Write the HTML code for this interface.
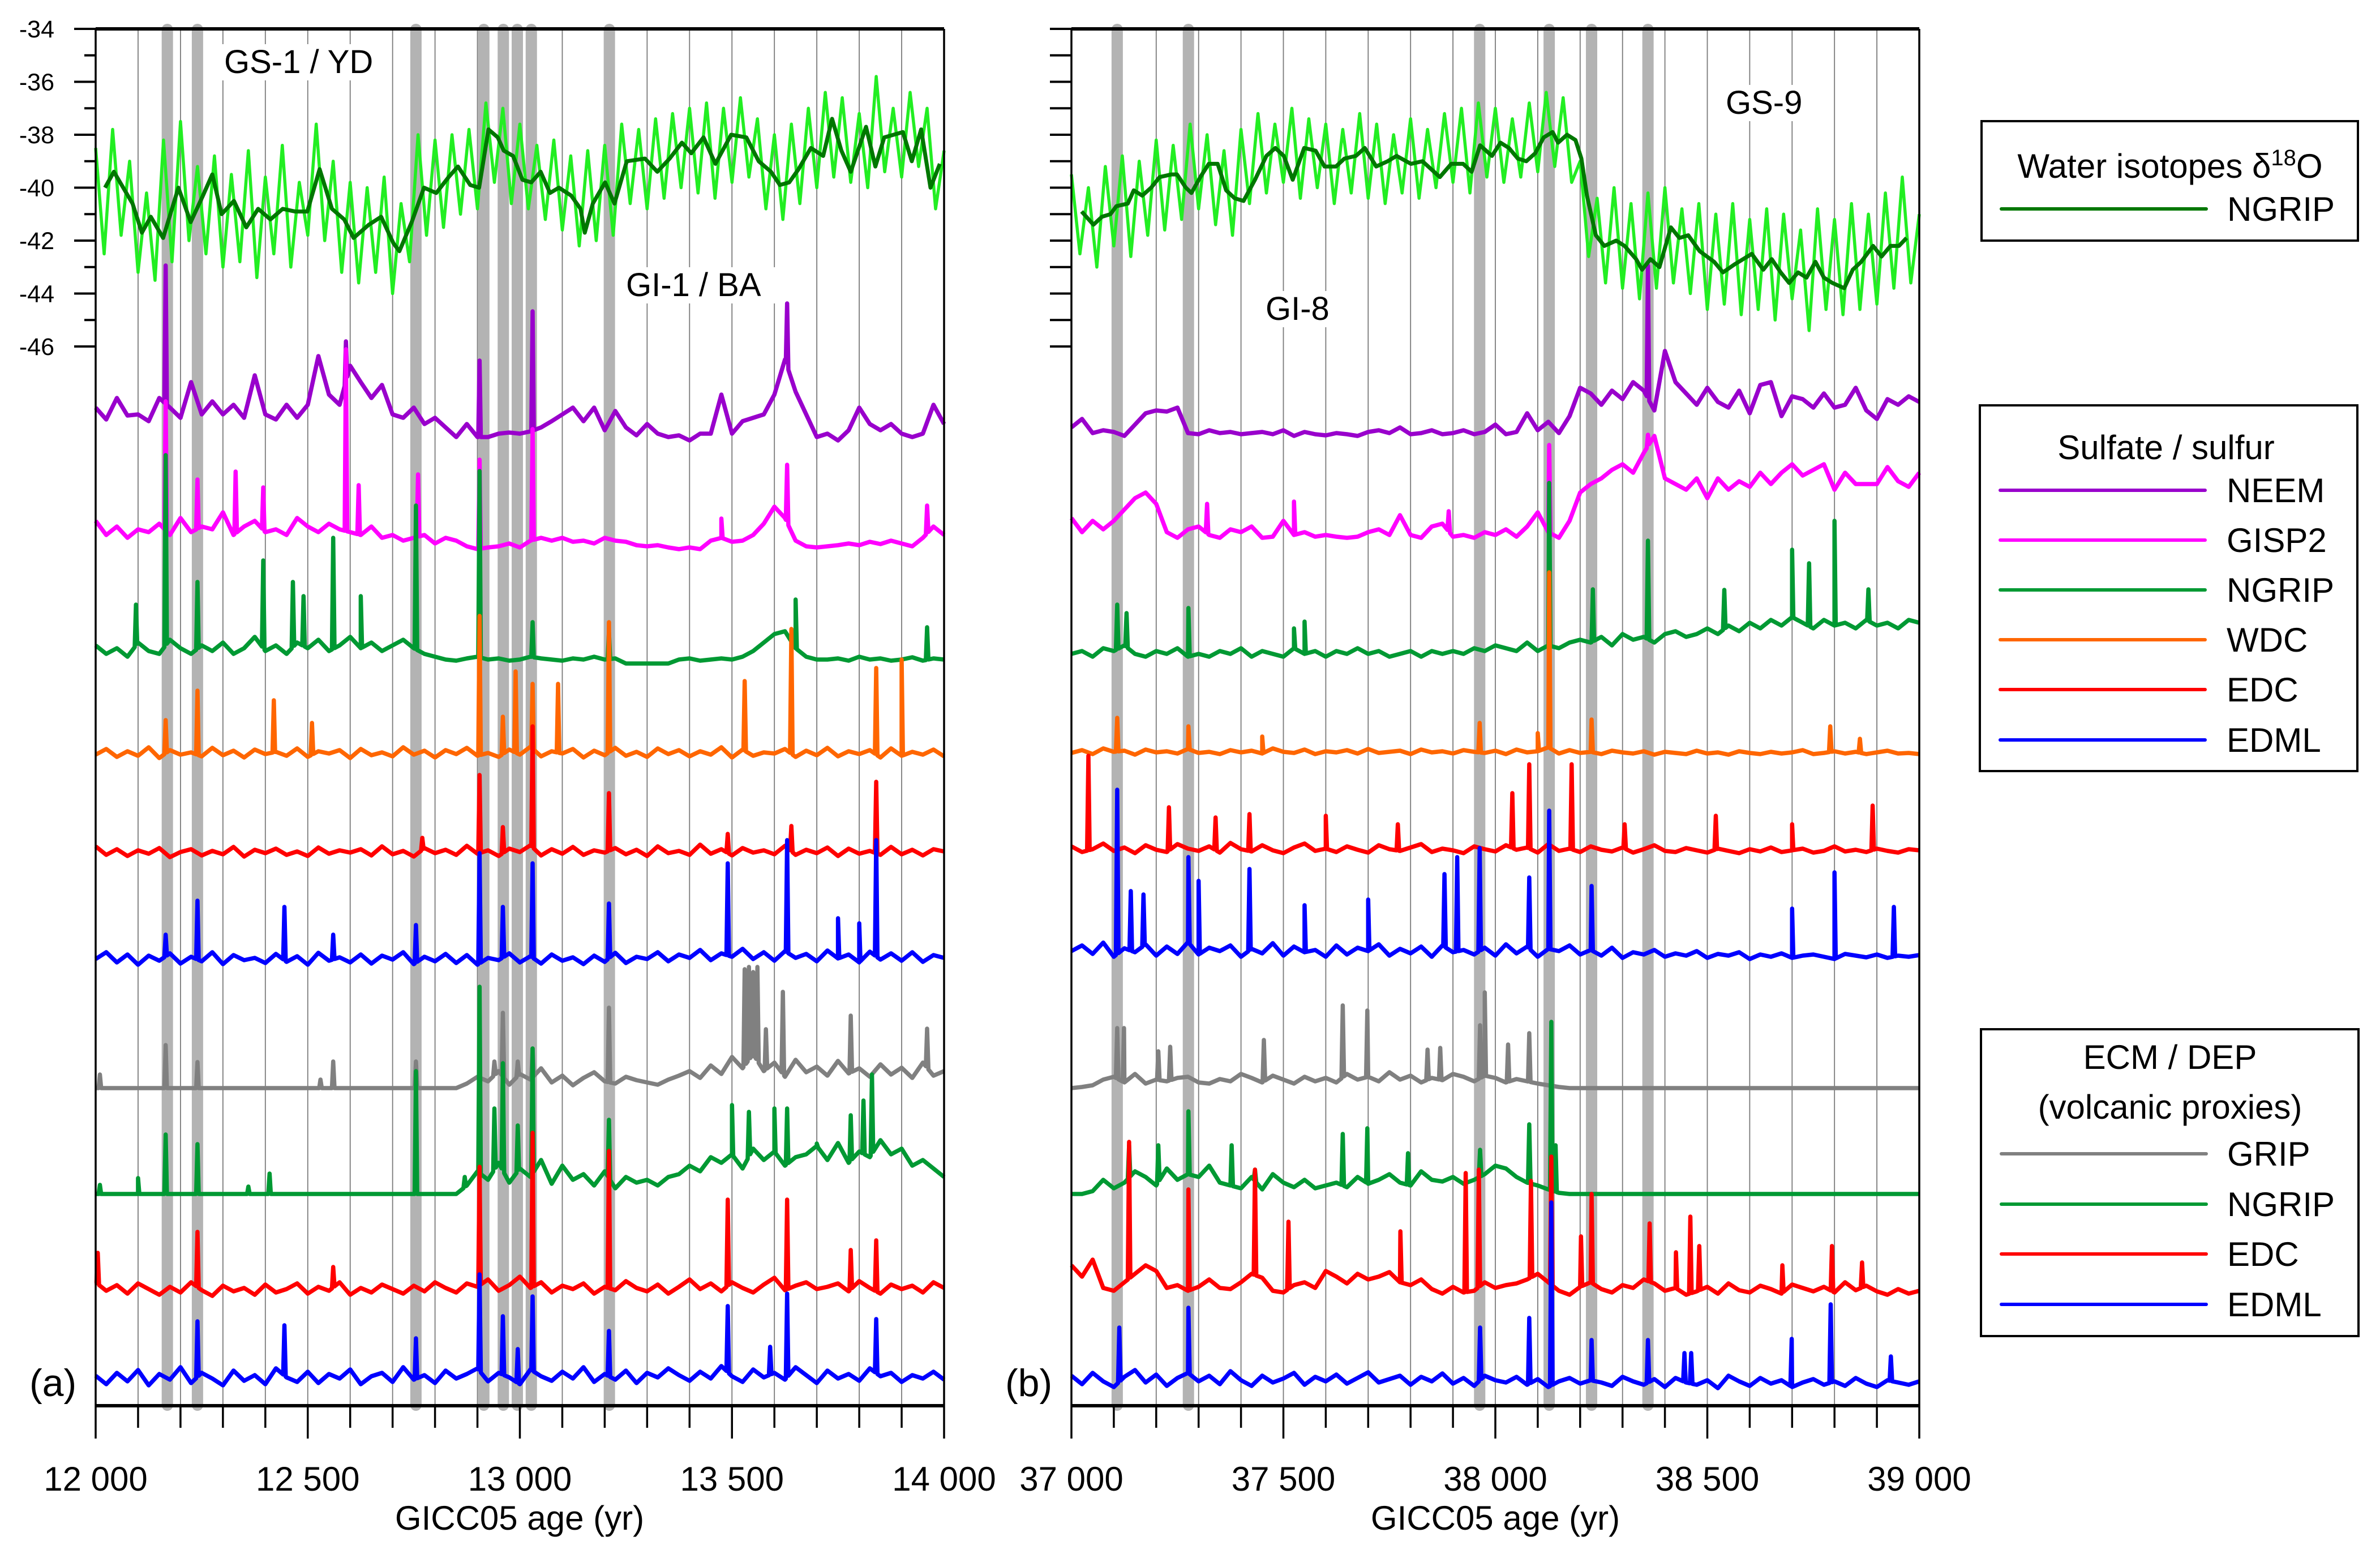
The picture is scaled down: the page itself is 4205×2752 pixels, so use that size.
<!DOCTYPE html>
<html><head><meta charset="utf-8"><title>Volcanic synchronization records</title>
<style>
html,body{margin:0;padding:0;background:#fff;}
svg{display:block;font-family:"Liberation Sans",Arial,sans-serif;}
</style></head>
<body>
<svg id="chart" xmlns="http://www.w3.org/2000/svg" width="4205" height="2752" viewBox="0 0 4205 2752">
<rect x="0" y="0" width="4205" height="2752" fill="#fff"/>
<g id="layer-grid"></g>
<g id="layer-mask">
  <rect x="388" y="78" width="298" height="64" fill="#fff"/>
  <rect x="1098" y="472" width="272" height="64" fill="#fff"/>
  <rect x="3038" y="150" width="162" height="64" fill="#fff"/>
  <rect x="2226" y="514" width="138" height="64" fill="#fff"/>
</g>
<g id="layer-bands"></g>
<g id="layer-data"></g>
<g id="layer-axes"></g>
<g id="layer-text">
  <text x="396" y="129" font-size="58">GS-1 / YD</text>
  <text x="1106" y="523" font-size="58">GI-1 / BA</text>
  <text x="3049" y="201" font-size="58">GS-9</text>
  <text x="2236" y="565" font-size="58">GI-8</text>
  <text x="52" y="2466" font-size="68">(a)</text>
  <text x="1776" y="2466" font-size="68">(b)</text>
  <text x="918" y="2702" font-size="60" text-anchor="middle">GICC05 age (yr)</text>
  <text x="2642" y="2702" font-size="60" text-anchor="middle">GICC05 age (yr)</text>
</g>
<g id="legend">
  <rect x="3501" y="214" width="665" height="211" fill="none" stroke="#000" stroke-width="4"/>
  <text x="3834" y="314" font-size="60" text-anchor="middle">Water isotopes δ<tspan font-size="40" dy="-22">18</tspan><tspan dy="22">O</tspan></text>
  <line x1="3536" y1="369" x2="3898" y2="369" stroke="#007700" stroke-width="6" stroke-linecap="round"/>
  <text x="3935" y="390" font-size="60">NGRIP</text>

  <rect x="3498" y="716" width="667" height="646" fill="none" stroke="#000" stroke-width="4"/>
  <text x="3827" y="811" font-size="60" text-anchor="middle">Sulfate / sulfur</text>
  <line x1="3534" y1="866" x2="3896" y2="866" stroke="#9900cc" stroke-width="6" stroke-linecap="round"/>
  <text x="3934" y="887" font-size="60">NEEM</text>
  <line x1="3534" y1="954" x2="3896" y2="954" stroke="#ff00ff" stroke-width="6" stroke-linecap="round"/>
  <text x="3934" y="975" font-size="60">GISP2</text>
  <line x1="3534" y1="1042" x2="3896" y2="1042" stroke="#009933" stroke-width="6" stroke-linecap="round"/>
  <text x="3934" y="1063" font-size="60">NGRIP</text>
  <line x1="3534" y1="1130" x2="3896" y2="1130" stroke="#ff6600" stroke-width="6" stroke-linecap="round"/>
  <text x="3934" y="1151" font-size="60">WDC</text>
  <line x1="3534" y1="1218" x2="3896" y2="1218" stroke="#ff0000" stroke-width="6" stroke-linecap="round"/>
  <text x="3934" y="1239" font-size="60">EDC</text>
  <line x1="3534" y1="1307" x2="3896" y2="1307" stroke="#0000ff" stroke-width="6" stroke-linecap="round"/>
  <text x="3934" y="1328" font-size="60">EDML</text>

  <rect x="3500" y="1818" width="667" height="542" fill="none" stroke="#000" stroke-width="4"/>
  <text x="3834" y="1888" font-size="60" text-anchor="middle">ECM / DEP</text>
  <text x="3834" y="1976" font-size="60" text-anchor="middle">(volcanic proxies)</text>
  <line x1="3536" y1="2038" x2="3898" y2="2038" stroke="#808080" stroke-width="6" stroke-linecap="round"/>
  <text x="3935" y="2059" font-size="60">GRIP</text>
  <line x1="3536" y1="2127" x2="3898" y2="2127" stroke="#009933" stroke-width="6" stroke-linecap="round"/>
  <text x="3935" y="2148" font-size="60">NGRIP</text>
  <line x1="3536" y1="2215" x2="3898" y2="2215" stroke="#ff0000" stroke-width="6" stroke-linecap="round"/>
  <text x="3935" y="2236" font-size="60">EDC</text>
  <line x1="3536" y1="2304" x2="3898" y2="2304" stroke="#0000ff" stroke-width="6" stroke-linecap="round"/>
  <text x="3935" y="2325" font-size="60">EDML</text>
</g>
</svg>
<script>
// ===== Data: panel (a) 12000-14000 yr =====
var aBandYr = [12169,12240,12755,12915,12961,12994,13027,13211];
var aXTicks = [12000,12500,13000,13500,14000];
var aXTickLabels = ["12 000","12 500","13 000","13 500","14 000"];
var yTickVals = [-34,-35,-36,-37,-38,-39,-40,-41,-42,-43,-44,-45,-46];
var yTickLabels = ["-34","","-36","","-38","","-40","","-42","","-44","","-46"];

var aIsoSmYr = [12022,12043,12065,12087,12109,12130,12159,12195,12224,12253,12275,12297,12326,12355,12383,12412,12441,12470,12499,12528,12557,12586,12608,12644,12673,12702,12716,12745,12774,12803,12832,12854,12883,12904,12926,12948,12962,12984,13006,13027,13049,13071,13092,13121,13143,13153,13172,13201,13223,13252,13295,13324,13353,13382,13404,13433,13461,13498,13534,13563,13592,13613,13635,13657,13686,13715,13736,13758,13780,13816,13838,13859,13903,13924,13946,13968,13990];
var aIsoSmVal = [-40.0,-39.4,-40.0,-40.6,-41.7,-41.1,-41.9,-40.0,-41.3,-40.3,-39.5,-41.0,-40.5,-41.5,-40.8,-41.2,-40.8,-40.9,-40.9,-39.3,-40.8,-41.2,-41.9,-41.4,-41.1,-42.1,-42.4,-41.3,-40.0,-40.2,-39.6,-39.2,-39.9,-40.0,-37.8,-38.1,-38.6,-38.8,-39.7,-39.8,-39.4,-40.2,-40.0,-40.3,-40.8,-41.7,-40.6,-39.8,-40.6,-39.0,-38.9,-39.4,-38.9,-38.3,-38.7,-38.1,-39.1,-38.0,-38.1,-39.0,-39.4,-39.9,-39.8,-39.3,-38.5,-38.8,-37.4,-38.6,-39.4,-37.7,-39.2,-38.1,-37.9,-39.0,-37.8,-40.0,-39.1];
var aIsoRaw = [-38.5,-42.5,-37.8,-41.8,-39.0,-43.2,-40.2,-43.5,-38.2,-42.8,-37.5,-42.0,-39.2,-42.5,-38.8,-43.0,-39.5,-42.8,-38.6,-43.4,-39.6,-42.5,-38.4,-43.0,-39.8,-41.8,-37.6,-42.0,-39.0,-43.2,-39.8,-43.6,-40.0,-43.2,-39.6,-44.0,-40.6,-42.8,-38.0,-41.8,-38.2,-41.5,-38.0,-41.0,-37.8,-40.8,-36.8,-39.8,-37.0,-40.6,-37.6,-40.8,-38.4,-41.2,-38.2,-41.6,-38.8,-42.2,-38.6,-42.0,-38.4,-41.8,-37.6,-40.6,-37.8,-40.8,-37.4,-40.4,-37.2,-40.0,-37.0,-40.2,-36.8,-40.4,-37.0,-39.8,-36.6,-39.6,-37.4,-40.8,-38.0,-41.2,-37.6,-40.6,-37.0,-40.0,-36.4,-39.6,-36.6,-39.8,-37.2,-40.0,-35.8,-39.4,-37.0,-39.6,-36.4,-39.2,-37.0,-40.8,-38.6];

var aNeemBg = [52,31,69,38,40,28,69,52,34,97,40,63,40,57,34,109,40,31,57,34,57,143,75,57,126,97,69,92,40,34,52,23,34,17,0,23,0,0,6,8,6,10,17,28,40,52,28,52,12,46,17,3,23,6,0,3,-6,6,6,75,6,28,34,40,75,137,80,40,0,6,-6,12,52,23,12,23,6,0,6,57,23];
var aNeemSpkYr = [12165,12590,12905,13030,13630];
var aNeemSpkVal = [303,169,135,222,236];

var aGispBg = [55,30,45,25,40,35,50,30,60,35,45,40,70,30,45,55,35,40,30,60,45,35,50,40,35,30,45,25,30,20,25,30,15,25,20,10,5,8,10,15,8,20,25,20,25,18,20,15,25,20,18,12,10,12,8,5,8,5,20,25,18,20,30,50,80,60,20,10,8,10,12,15,12,18,14,20,15,10,25,45,30];
var aGispSpkYr = [12165,12240,12330,12395,12590,12620,12760,12905,13030,13475,13630,13960];
var aGispSpkVal = [266,128,142,114,358,118,137,163,217,59,154,82];

var aNgripBg = [35,20,30,15,40,25,20,45,30,20,35,25,40,20,30,50,25,35,20,40,30,45,25,35,50,30,40,25,35,45,30,20,15,10,8,12,15,10,12,8,10,15,12,10,8,12,10,15,10,12,3,3,3,3,3,10,12,8,10,12,10,15,25,40,55,60,30,15,10,10,12,8,15,10,12,8,10,14,8,12,10];
var aNgripSpkYr = [12095,12165,12240,12395,12465,12490,12560,12625,12755,12905,13030,13210,13650,13960];
var aNgripSpkVal = [107,371,147,185,147,122,225,122,282,343,76,58,116,67];

var aWdcBg = [12,22,8,18,10,25,6,20,12,16,9,24,11,19,7,21,13,17,10,23,8,18,14,20,6,22,11,16,9,25,12,19,7,20,13,24,10,15,8,21,12,26,9,18,14,22,7,19,11,24,10,17,8,23,13,20,9,18,12,25,7,21,10,16,14,22,8,19,11,24,9,18,13,20,7,23,10,17,12,21,9];
var aWdcSpkYr = [12165,12240,12420,12510,12905,12960,12990,13030,13090,13210,13530,13640,13840,13900];
var aWdcSpkVal = [73,125,108,68,257,79,159,137,137,246,142,234,165,180];

var aEdcBg = [25,10,20,8,18,12,22,6,15,20,9,17,11,24,7,19,13,21,10,16,8,23,12,18,14,20,9,25,11,17,7,22,13,19,10,26,12,18,8,21,15,27,9,20,12,24,10,18,14,22,11,19,8,25,13,17,10,28,12,20,9,22,14,18,11,26,10,19,13,23,8,21,12,17,10,24,11,19,9,20,16];
var aEdcSpkYr = [12770,12905,12960,13030,13210,13490,13640,13840];
var aEdcSpkVal = [40,151,59,237,119,47,61,139];

var aEdmlBg = [18,30,12,26,8,24,15,28,10,22,14,30,9,25,16,20,11,27,13,23,8,29,15,21,12,26,10,24,17,30,9,22,14,27,11,25,8,20,16,28,12,23,10,26,15,21,9,24,13,29,11,22,18,30,14,26,20,34,16,28,22,36,18,30,15,32,20,27,14,33,19,26,12,31,17,28,15,30,13,25,20];
var aEdmlSpkYr = [12165,12240,12445,12560,12755,12905,12960,13030,13210,13490,13630,13750,13800,13840];
var aEdmlSpkVal = [61,121,110,61,78,205,110,187,116,187,228,90,81,228];

var aGripBg = [0,0,0,0,0,0,0,0,0,0,0,0,0,0,0,0,0,0,0,0,0,0,0,0,0,0,0,0,0,0,0,0,0,0,0,8,20,12,30,6,25,15,35,10,22,5,18,28,12,8,20,14,10,6,15,22,30,18,40,25,55,35,60,30,45,20,50,28,38,22,48,26,35,20,42,24,36,18,45,22,30];
var aGripSpkYr = [12010,12165,12240,12530,12560,12755,12940,12960,12995,13030,13210,13530,13540,13550,13560,13580,13620,13780,13960];
var aGripSpkVal = [24,76,46,15,47,47,47,133,47,70,142,210,214,205,214,104,170,128,105];

var aNdepBg = [0,0,0,0,0,0,0,0,0,0,0,0,0,0,0,0,0,0,0,0,0,0,0,0,0,0,0,0,0,0,0,0,0,0,0,15,40,25,55,20,45,30,60,18,50,25,35,15,40,10,30,20,25,15,30,35,50,40,65,55,70,45,80,60,75,50,65,70,85,60,90,55,75,65,95,70,80,50,60,45,30];
var aNdepSpkYr = [12010,12100,12165,12240,12360,12410,12755,12870,12905,12940,12960,12995,13030,13210,13500,13540,13600,13630,13700,13780,13810,13830];
var aNdepSpkVal = [16,28,105,88,13,36,217,30,366,151,231,121,257,131,157,145,151,151,89,139,165,211];

var aEdepBg = [30,15,25,10,28,18,8,22,12,30,16,6,24,14,20,8,26,12,18,28,10,22,15,30,8,20,12,26,18,10,24,14,30,20,12,28,22,35,15,25,40,20,30,12,24,18,28,10,22,16,32,20,14,26,10,22,35,18,28,14,30,20,12,26,38,16,24,30,18,22,28,14,32,20,10,26,18,24,12,30,20];
var aEdepSpkYr = [12005,12240,12560,12905,13030,13210,13490,13630,13780,13840];
var aEdepSpkVal = [82,119,57,234,294,262,176,176,87,104];

var aMdepBg = [25,10,30,15,35,8,28,18,40,12,30,20,8,34,16,26,10,38,22,14,32,12,28,20,36,10,24,30,14,40,18,26,12,34,20,28,38,15,30,22,10,36,24,16,32,20,40,14,28,18,34,12,30,22,38,26,16,32,20,42,24,14,36,22,30,18,40,26,12,34,20,28,16,38,24,30,14,26,20,32,18];
var aMdepSpkYr = [12240,12445,12755,12905,12960,12995,13030,13210,13490,13590,13630,13840];
var aMdepSpkVal = [121,114,91,204,130,72,165,104,148,76,170,125];

// ===== Data: panel (b) 37000-39000 yr =====
var bBandYr = [37108,37276,37963,38127,38227,38360];
var bXTicks = [37000,37500,38000,38500,39000];
var bXTickLabels = ["37 000","37 500","38 000","38 500","39 000"];

var bIsoSmYr = [37024,37052,37072,37092,37106,37133,37147,37167,37188,37208,37236,37249,37270,37283,37304,37324,37345,37365,37385,37406,37433,37460,37481,37501,37522,37549,37576,37597,37624,37644,37671,37692,37719,37746,37767,37801,37828,37869,37896,37924,37944,37964,37992,38012,38032,38053,38073,38094,38114,38135,38148,38169,38189,38203,38216,38237,38257,38285,38305,38332,38346,38366,38387,38414,38434,38455,38482,38516,38537,38564,38605,38632,38652,38673,38693,38714,38734,38755,38775,38795,38823,38843,38863,38891,38911,38932,38952,38970];
var bIsoSmVal = [-40.9,-41.4,-41.1,-41.0,-40.7,-40.6,-40.1,-40.3,-40.0,-39.6,-39.5,-39.5,-40.0,-40.2,-39.6,-39.1,-39.1,-40.1,-40.4,-40.5,-39.7,-38.8,-38.5,-38.8,-39.7,-38.5,-38.6,-39.2,-39.2,-38.9,-38.8,-38.5,-39.2,-39.0,-38.8,-39.1,-39.0,-39.6,-39.1,-39.1,-39.4,-38.4,-38.8,-38.3,-38.5,-38.9,-39.0,-38.7,-38.1,-37.9,-38.3,-38.0,-38.2,-38.9,-40.3,-41.8,-42.2,-42.0,-42.2,-42.7,-43.1,-42.7,-43.0,-41.5,-41.9,-41.8,-42.4,-42.8,-43.2,-42.9,-42.5,-43.1,-42.7,-43.2,-43.6,-43.2,-43.4,-42.8,-43.4,-43.6,-43.8,-43.1,-42.8,-42.2,-42.6,-42.2,-42.2,-41.9];
var bIsoRaw = [-39.5,-42.5,-40.0,-43.0,-39.2,-42.2,-38.8,-42.6,-39.0,-41.8,-38.2,-41.6,-38.4,-41.2,-37.6,-40.8,-38.0,-41.4,-38.6,-41.8,-37.8,-40.6,-37.2,-40.2,-37.6,-39.8,-37.0,-40.4,-37.4,-40.0,-37.6,-40.6,-37.8,-40.2,-37.2,-40.4,-37.6,-40.6,-38.0,-40.2,-37.4,-40.4,-37.8,-40.0,-37.2,-39.8,-37.0,-40.2,-36.8,-39.6,-37.0,-39.8,-37.4,-39.6,-36.8,-39.4,-36.4,-39.2,-36.6,-39.8,-39.0,-42.6,-40.4,-43.6,-40.0,-43.8,-40.6,-44.2,-40.2,-43.8,-40.0,-43.6,-40.8,-44.0,-40.6,-44.6,-41.0,-44.4,-40.6,-44.8,-41.2,-44.6,-40.8,-45.0,-41.0,-44.2,-41.6,-45.4,-40.8,-44.6,-41.2,-44.8,-40.6,-44.6,-41.0,-44.4,-40.2,-43.8,-39.6,-43.6,-41.0];

var bNeemBg = [20,35,10,15,12,5,25,45,50,48,55,10,8,15,10,12,8,10,12,8,15,5,12,8,6,10,8,5,12,15,10,20,8,10,15,8,10,15,8,12,25,8,12,45,15,30,10,40,90,80,60,85,70,100,85,50,155,100,80,60,90,65,55,85,45,95,100,40,75,70,55,80,55,60,90,50,35,70,60,75,65];
var bNeemSpkYr = [38360];
var bNeemSpkVal = [306];

var bGispBg = [45,20,40,25,40,60,80,90,70,20,10,25,30,15,10,25,20,30,10,12,40,15,20,12,15,12,10,12,20,25,15,50,15,10,30,35,12,15,10,20,15,25,12,30,55,20,10,40,90,105,115,130,140,125,160,190,115,105,95,115,80,115,95,110,100,125,105,125,140,120,130,140,95,125,105,105,105,135,110,100,125];
var bGispSpkYr = [37320,37525,37890,38127,38360];
var bGispSpkVal = [70,74,57,174,192];

var bNgripBg = [25,30,20,35,30,40,25,20,30,25,35,20,25,20,30,25,35,20,30,25,20,35,25,30,20,30,25,35,25,30,20,25,30,20,30,25,30,25,35,30,40,35,30,45,30,40,35,45,50,45,55,40,60,50,55,45,60,65,55,60,70,60,75,65,80,70,85,75,90,80,70,85,75,80,70,85,75,80,70,85,80];
var bNgripSpkYr = [37108,37130,37276,37525,37550,38127,38230,38360,38540,38700,38740,38800,38880];
var bNgripSpkVal = [112,97,106,70,82,327,139,225,138,209,185,260,139];

var bWdcBg = [10,15,8,18,12,14,7,16,11,13,9,17,10,12,8,15,11,14,9,18,12,10,16,8,13,11,15,9,17,10,12,14,8,16,11,13,9,15,12,10,14,8,16,11,13,20,9,15,10,12,8,14,11,9,13,7,12,10,8,14,9,11,7,13,10,8,12,9,11,15,8,10,13,9,12,8,11,14,9,10,8];
var bWdcSpkYr = [37108,37276,37450,37963,38100,38127,38227,38790,38860];
var bWdcSpkVal = [72,57,39,63,45,329,69,57,35];

var bEdcBg = [20,10,15,25,12,18,8,22,14,10,24,16,12,20,9,26,15,11,22,13,8,18,25,12,16,10,20,14,9,22,15,12,18,24,10,16,13,8,20,15,11,22,14,18,9,24,12,16,10,20,14,11,18,9,15,22,12,10,17,13,9,16,12,8,15,11,18,10,13,16,9,12,20,11,14,10,16,12,9,15,13];
var bEdcSpkYr = [37040,37230,37340,37420,37600,37770,38040,38080,38180,38305,38520,38700,38890];
var bEdcSpkVal = [180,89,71,77,74,59,114,165,165,59,74,59,92];

var bEdmlBg = [20,30,15,35,10,25,18,32,12,28,15,36,14,26,20,30,10,24,16,34,12,28,18,22,10,30,14,26,20,32,12,24,16,28,10,30,18,22,14,26,12,32,16,28,10,24,20,30,14,22,12,26,8,18,14,22,10,16,12,20,8,15,12,18,6,14,10,16,8,12,14,10,6,15,12,9,14,8,12,10,13];
var bEdmlSpkYr = [37108,37140,37170,37276,37300,37420,37550,37700,37880,37910,37963,38080,38127,38227,38700,38800,38940];
var bEdmlSpkVal = [305,126,120,186,144,165,101,111,156,186,202,150,268,135,95,159,98];

var bGripBg = [0,2,5,15,20,10,25,8,15,12,18,20,10,8,16,12,25,18,10,22,15,8,20,12,18,10,25,15,20,12,28,15,22,10,18,14,25,20,12,22,18,10,16,12,8,5,2,0,0,0,0,0,0,0,0,0,0,0,0,0,0,0,0,0,0,0,0,0,0,0,0,0,0,0,0,0,0,0,0,0,0];
var bGripSpkYr = [37108,37124,37205,37233,37454,37640,37698,37840,37870,37964,37975,38030,38080];
var bGripSpkVal = [106,106,65,73,85,146,137,68,71,111,169,77,97];

var bNdepBg = [0,0,5,25,10,20,40,30,15,45,25,35,30,50,20,15,10,30,8,35,20,12,25,10,15,20,12,30,18,25,35,20,15,40,25,22,30,18,25,35,50,45,30,20,15,8,2,0,0,0,0,0,0,0,0,0,0,0,0,0,0,0,0,0,0,0,0,0,0,0,0,0,0,0,0,0,0,0,0,0,0];
var bNdepSpkYr = [37136,37205,37276,37378,37433,37640,37698,37794,37964,38080,38132,38142];
var bNdepSpkVal = [86,86,146,86,43,106,116,72,78,123,304,86];

var bEdepBg = [60,40,70,20,15,30,45,60,50,20,25,15,22,35,20,18,30,45,38,15,12,25,30,20,50,40,28,45,35,40,48,30,25,35,18,10,22,12,15,30,20,25,28,35,45,30,15,8,22,30,18,12,25,20,35,28,15,20,8,14,22,10,28,16,12,24,18,10,26,20,14,22,12,30,16,24,14,8,18,10,15];
var bEdepSpkYr = [37136,37276,37433,37512,37776,37930,37961,38084,38132,38202,38227,38364,38426,38460,38481,38677,38794,38865];
var bEdepSpkVal = [278,194,229,137,120,223,229,209,252,111,186,134,83,146,94,60,94,65];

var bMdepBg = [30,15,35,20,10,28,40,18,32,12,26,35,20,30,15,38,22,12,30,18,25,35,14,28,20,32,16,26,36,18,24,30,14,28,20,34,16,26,12,30,22,18,28,14,24,10,20,26,16,22,18,12,28,20,14,24,10,26,18,14,22,8,30,20,12,26,16,22,10,18,24,14,20,12,26,16,10,22,18,14,20];
var bMdepSpkYr = [37113,37276,37964,38080,38132,38227,38360,38446,38462,38699,38791,38933];
var bMdepSpkVal = [115,150,115,132,336,93,93,70,70,95,156,64];

// ===== Rendering =====
var NS = 'http://www.w3.org/2000/svg';
var Y_TOP = 51, Y_BOT = 2483;
function mk(tag, attrs, parent) {
  var e = document.createElementNS(NS, tag);
  for (var k in attrs) e.setAttribute(k, attrs[k]);
  parent.appendChild(e);
  return e;
}
var gGrid = document.getElementById('layer-grid');
var gBands = document.getElementById('layer-bands');
var gData = document.getElementById('layer-data');
var gAxes = document.getElementById('layer-axes');

var panels = [
  {id:'a', x0:169, x1:1668, yr0:12000, yr1:14000, bands:aBandYr, ticks:aXTicks, tickLabels:aXTickLabels, yLabels:true,
   isoSmYr:aIsoSmYr, isoSmVal:aIsoSmVal, isoRaw:aIsoRaw,
   series:[
    {n:'neem-sulfate', bg:aNeemBg, sy:aNeemSpkYr, sv:aNeemSpkVal, base:772, c:'#9900cc'},
    {n:'gisp2-sulfate', bg:aGispBg, sy:aGispSpkYr, sv:aGispSpkVal, base:975, c:'#ff00ff'},
    {n:'ngrip-sulfate', bg:aNgripBg, sy:aNgripSpkYr, sv:aNgripSpkVal, base:1175, c:'#009933'},
    {n:'wdc-sulfur', bg:aWdcBg, sy:aWdcSpkYr, sv:aWdcSpkVal, base:1345, c:'#ff6600'},
    {n:'edc-sulfate', bg:aEdcBg, sy:aEdcSpkYr, sv:aEdcSpkVal, base:1520, c:'#ff0000'},
    {n:'edml-sulfate', bg:aEdmlBg, sy:aEdmlSpkYr, sv:aEdmlSpkVal, base:1712, c:'#0000ff'},
    {n:'grip-ecm', bg:aGripBg, sy:aGripSpkYr, sv:aGripSpkVal, base:1922, c:'#808080'},
    {n:'ngrip-dep', bg:aNdepBg, sy:aNdepSpkYr, sv:aNdepSpkVal, base:2109, c:'#009933'},
    {n:'edc-dep', bg:aEdepBg, sy:aEdepSpkYr, sv:aEdepSpkVal, base:2295, c:'#ff0000'},
    {n:'edml-dep', bg:aMdepBg, sy:aMdepSpkYr, sv:aMdepSpkVal, base:2455, c:'#0000ff'}
   ]},
  {id:'b', x0:1893, x1:3391, yr0:37000, yr1:39000, bands:bBandYr, ticks:bXTicks, tickLabels:bXTickLabels, yLabels:false,
   isoSmYr:bIsoSmYr, isoSmVal:bIsoSmVal, isoRaw:bIsoRaw,
   series:[
    {n:'neem-sulfate', bg:bNeemBg, sy:bNeemSpkYr, sv:bNeemSpkVal, base:775, c:'#9900cc'},
    {n:'gisp2-sulfate', bg:bGispBg, sy:bGispSpkYr, sv:bGispSpkVal, base:960, c:'#ff00ff'},
    {n:'ngrip-sulfate', bg:bNgripBg, sy:bNgripSpkYr, sv:bNgripSpkVal, base:1180, c:'#009933'},
    {n:'wdc-sulfur', bg:bWdcBg, sy:bWdcSpkYr, sv:bWdcSpkVal, base:1340, c:'#ff6600'},
    {n:'edc-sulfate', bg:bEdcBg, sy:bEdcSpkYr, sv:bEdcSpkVal, base:1515, c:'#ff0000'},
    {n:'edml-sulfate', bg:bEdmlBg, sy:bEdmlSpkYr, sv:bEdmlSpkVal, base:1700, c:'#0000ff'},
    {n:'grip-ecm', bg:bGripBg, sy:bGripSpkYr, sv:bGripSpkVal, base:1922, c:'#808080'},
    {n:'ngrip-dep', bg:bNdepBg, sy:bNdepSpkYr, sv:bNdepSpkVal, base:2109, c:'#009933'},
    {n:'edc-dep', bg:bEdepBg, sy:bEdepSpkYr, sv:bEdepSpkVal, base:2295, c:'#ff0000'},
    {n:'edml-dep', bg:bMdepBg, sy:bMdepSpkYr, sv:bMdepSpkVal, base:2460, c:'#0000ff'}
   ]}
];

function xScale(p, yr) { return p.x0 + (yr - p.yr0) / (p.yr1 - p.yr0) * (p.x1 - p.x0); }
function isoScale(v) { return Y_TOP + (-34 - v) * 46.75; }

panels.forEach(function (p) {
  for (var yr = p.yr0 + 100; yr < p.yr1; yr += 100) {
    var gx = xScale(p, yr);
    var gl = mk('line', {x1:gx, y1:Y_TOP, x2:gx, y2:Y_BOT, stroke:'#7a7a7a', 'stroke-width':1.8}, gGrid);
    
    
  }
  p.bands.forEach(function (yr) {
    var bx = xScale(p, yr);
    var b = mk('line', {x1:bx, y1:52, x2:bx, y2:2482, stroke:'#b3b3b3', 'stroke-width':20, 'stroke-linecap':'round'}, gBands);
    
    
  });
  var step = (p.yr1 - p.yr0) / (p.isoRaw.length - 1);
  var pts = p.isoRaw.map(function (v, i) { return xScale(p, p.yr0 + i * step).toFixed(1) + ',' + isoScale(v).toFixed(1); }).join(' ');
  var raw = mk('polyline', {points:pts, fill:'none', stroke:'#22ee22', 'stroke-width':5.5, 'stroke-linejoin':'round'}, gData);
  
  
  p.series.forEach(function (s) {
    var n = s.bg.length, st = (p.yr1 - p.yr0) / (n - 1);
    var list = [];
    for (var i = 0; i < n; i++) list.push([p.yr0 + i * st, s.bg[i]]);
    function bgAt(yr) {
      var f = (yr - p.yr0) / st, i0 = Math.max(0, Math.min(n - 2, Math.floor(f))), t = f - i0;
      return s.bg[i0] * (1 - t) + s.bg[i0 + 1] * t;
    }
    for (var k = 0; k < s.sy.length; k++) {
      var y = s.sy[k];
      list.push([y - 3, bgAt(y - 3)]);
      list.push([y, s.sv[k]]);
      list.push([y + 3, bgAt(y + 3)]);
    }
    list.sort(function (a, b) { return a[0] - b[0]; });
    var pp = list.filter(function (q) { return q[0] >= p.yr0 && q[0] <= p.yr1; })
      .map(function (q) { return xScale(p, q[0]).toFixed(1) + ',' + (s.base - q[1]).toFixed(1); }).join(' ');
    var pl = mk('polyline', {points:pp, fill:'none', stroke:s.c, 'stroke-width':7.5, 'stroke-linejoin':'round'}, gData);
    
    
  });
  var sp = p.isoSmYr.map(function (yr, i) { return xScale(p, yr).toFixed(1) + ',' + isoScale(p.isoSmVal[i]).toFixed(1); }).join(' ');
  var sm = mk('polyline', {points:sp, fill:'none', stroke:'#007700', 'stroke-width':7, 'stroke-linejoin':'round'}, gData);
  
  

  var frame = [[p.x0, Y_TOP, p.x1, Y_TOP, 6], [p.x0, Y_BOT, p.x1, Y_BOT, 6], [p.x0, Y_TOP, p.x0, Y_BOT, 3.5], [p.x1, Y_TOP, p.x1, Y_BOT, 3.5]];
  frame.forEach(function (f, i) {
    var l = mk('line', {x1:f[0], y1:f[1], x2:f[2], y2:f[3], stroke:'#000', 'stroke-width':f[4]}, gAxes);
    
    
  });
  for (var yr2 = p.yr0; yr2 <= p.yr1; yr2 += 100) {
    var tx = xScale(p, yr2);
    var major = p.ticks.indexOf(yr2) >= 0;
    var t = mk('line', {x1:tx, y1:Y_BOT, x2:tx, y2:Y_BOT + (major ? 58 : 39), stroke:'#000', 'stroke-width':3.5}, gAxes);
    
    
  }
  p.ticks.forEach(function (yr, i) {
    var tl = mk('text', {x:xScale(p, yr), y:2633, 'font-size':60, 'text-anchor':'middle'}, gAxes);
    tl.textContent = p.tickLabels[i];
    
    
  });
  yTickVals.forEach(function (v, i) {
    var ty = isoScale(v);
    var len = p.yLabels ? (i % 2 === 0 ? 38 : 20) : 38;
    var yt = mk('line', {x1:p.x0 - len, y1:ty, x2:p.x0, y2:ty, stroke:'#000', 'stroke-width':4}, gAxes);
    
    
    if (p.yLabels && yTickLabels[i]) {
      var yl = mk('text', {x:96, y:ty + 15, 'font-size':43, 'text-anchor':'end'}, gAxes);
      yl.textContent = yTickLabels[i];
      
      
    }
  });
});
</script>
</body></html>
